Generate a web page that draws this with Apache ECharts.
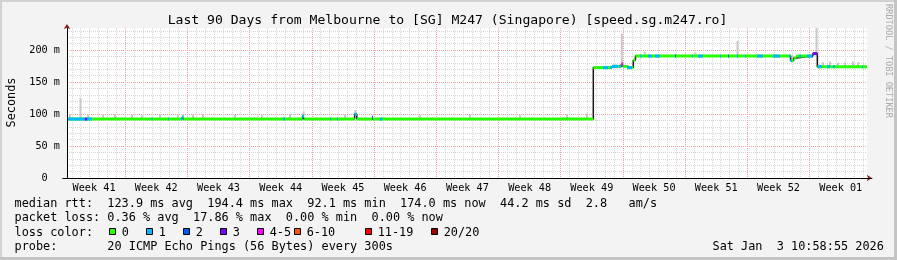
<!DOCTYPE html>
<html><head><meta charset="utf-8">
<script src="https://cdn.jsdelivr.net/npm/echarts@6/dist/echarts.min.js"></script>
<style>html,body{margin:0;padding:0;background:#f3f3f3}#c{width:897px;height:260px}</style>
</head><body><div id="c"></div>
<script>
// ---------------- data ----------------
const titleText = 'Last 90 Days from Melbourne to [SG] M247 (Singapore) [speed.sg.m247.ro]';
const weekLabels = ['Week 41','Week 42','Week 43','Week 44','Week 45','Week 46','Week 47','Week 48','Week 49','Week 50','Week 51','Week 52','Week 01'];
const spanDays = 90;                 // graph covers 90 days
const startOffsetDays = 39535 / 86400; // start time 10:58:55 after local Sunday midnight
const yMax = 234.4;                  // ms at top of plot
const yUnit = ' m';

// median rtt (ms) as piecewise-constant levels: day (since start) where each level begins
const levelDay = [0, 12.95, 13.12, 26.50, 26.68, 32.36, 32.60, 34.30, 34.42, 59.21, 61.30, 62.36, 62.56, 63.00, 63.71, 63.95, 81.40, 81.75, 82.00, 83.90, 84.41];
const levelRtt = [92.1, 95.5, 92.1, 97.0, 92.1, 99.5, 92.1, 95.0, 92.1, 172.5, 174.5, 178.0, 174.5, 172.5, 184.0, 190.5, 183.5, 187.5, 190.5, 194.4, 174.0];

// packet-loss colouring (intervals that are not 0 loss)
const lossStart = [0.00, 2.02, 2.25, 9.50, 11.36, 12.83, 24.30, 26.44, 29.59, 30.37, 32.34, 34.31, 35.20, 60.30, 61.09, 62.10, 62.33, 63.00, 64.50, 65.36, 66.15, 68.40, 70.31, 71.00, 73.46, 74.36, 75.37, 76.27, 77.62, 79.42, 81.23, 82.35, 83.25, 83.81, 84.49, 85.50, 86.17, 89.44];
const lossEnd   = [2.02, 2.25, 2.81, 9.62, 11.48, 13.16, 24.52, 26.66, 29.71, 30.49, 32.62, 34.42, 35.50, 60.86, 61.99, 62.33, 62.55, 63.56, 64.69, 65.81, 66.71, 68.52, 70.43, 71.55, 73.58, 74.48, 75.49, 76.39, 78.30, 80.21, 81.56, 82.58, 83.81, 84.41, 84.94, 85.84, 86.40, 89.55];
const lossClass = [1, 3, 1, 1, 1, 1, 1, 1, 1, 1, 1, 2, 1, 1, 1, 1, 4, 1, 1, 1, 1, 2, 1, 1, 1, 2, 1, 1, 1, 1, 1, 1, 1, 3, 1, 1, 1, 1];

// smoke (ping spread) tops, ms
const smokeDay = [0.34, 1.52, 2.36, 4.05, 5.40, 7.31, 8.44, 10.46, 12.49, 14.18, 15.30, 18.90, 21.94, 25.09, 26.62, 31.27, 32.45, 39.71, 45.34, 50.96, 56.25, 58.50, 62.42, 65.00, 70.70, 75.43, 81.60, 84.32, 85.05, 85.84, 86.74, 87.53, 88.43, 88.99];
const smokeTop = [99, 125, 99, 98, 100, 99, 98, 99, 98, 99, 100, 99, 98, 100, 104, 99, 106, 98, 99, 98, 100, 101, 226, 197, 196, 214, 192, 240, 181, 182, 180, 181, 182, 181];

const lossLabels = ['0', '1', '2', '3', '4-5', '6-10', '11-19', '20/20'];
const lossColors = ['#26ff00', '#00b8ff', '#0059ff', '#7e00ff', '#ff00ff', '#ff5500', '#ff0000', '#a10000'];

const statRtt  = 'median rtt:  123.9 ms avg  194.4 ms max  92.1 ms min  174.0 ms now  44.2 ms sd  2.8   am/s';
const statLoss = 'packet loss: 0.36 % avg  17.86 % max  0.00 % min  0.00 % now';
const lossHead = 'loss color:';
const probeText = 'probe:       20 ICMP Echo Pings (56 Bytes) every 300s';
const dateText = 'Sat Jan  3 10:58:55 2026';
const watermark = 'RRDTOOL / TOBI OETIKER';
const unitLabel = 'Seconds';

// ---------------- layout ----------------
const MONO = "'DejaVu Sans Mono', monospace";
const L = { left: 67, top: 28, width: 800, height: 150 };
const pxPerDay = L.width / spanDays;
const g2Left = L.left - startOffsetDays * pxPerDay;
const g2Width = weekLabels.length * 7 * pxPerDay;
const legendBoxX = [109, 146, 183, 220, 257, 294, 365, 431];
const LEG = 11.86, TIT = 13.1, AX = 10.2;
const mid = (baseline, size) => baseline - 0.297 * size;

// ---------------- derived series data ----------------
function levelEnd(i) { return i + 1 < levelDay.length ? levelDay[i + 1] : spanDays; }
const stepPts = levelDay.map((d, i) => [d, levelRtt[i]]);
stepPts.push([spanDays, levelRtt[levelRtt.length - 1]]);

const segData = levelDay.map((d, i) => [d, levelEnd(i), levelRtt[i], 0]);
lossStart.forEach((s, j) => {
  const e = lossEnd[j];
  levelDay.forEach((d, i) => {
    const a = Math.max(s, d), b = Math.min(e, levelEnd(i));
    if (b > a) segData.push([a, b, levelRtt[i], lossClass[j]]);
  });
});
function rttAt(day) {
  let v = levelRtt[0];
  levelDay.forEach((d, i) => { if (day >= d) v = levelRtt[i]; });
  return v;
}
const smokeData = smokeDay.map((d, i) => [d, rttAt(d), smokeTop[i]]);

// ---------------- graphics (texts, legend, frame) ----------------
function txt(x, y, text, size, extra) {
  return Object.assign({ type: 'text', x: x, y: y, silent: true,
    style: Object.assign({ text: text, fill: '#000', fontFamily: MONO, fontSize: size, align: 'left', verticalAlign: 'middle' }, extra || {}) });
}
const graphics = [
  { type: 'rect', shape: { x: 0, y: 0, width: 897, height: 2 }, style: { fill: '#d2d2d2' }, silent: true },
  { type: 'rect', shape: { x: 0, y: 0, width: 2, height: 260 }, style: { fill: '#d2d2d2' }, silent: true },
  { type: 'rect', shape: { x: 894, y: 0, width: 3, height: 260 }, style: { fill: '#c4c4c4' }, silent: true },
  { type: 'rect', shape: { x: 0, y: 257, width: 897, height: 3 }, style: { fill: '#c4c4c4' }, silent: true },
  txt(447.5, mid(24, TIT), titleText, TIT, { align: 'center' }),
  Object.assign(txt(11.5, 102.5, unitLabel, LEG, { align: 'center' }), { rotation: Math.PI / 2 }),
  Object.assign(txt(888.5, 61, watermark, 8.6, { align: 'center', fill: '#aaaaaa' }), { rotation: -Math.PI / 2 }),
  txt(14.5, mid(207.5, LEG), statRtt, LEG),
  txt(14.5, mid(221.7, LEG), statLoss, LEG),
  txt(14.5, mid(236, LEG), lossHead, LEG),
  txt(14.5, mid(250, LEG), probeText, LEG),
  txt(712.5, mid(250, LEG), dateText, LEG)
];
lossLabels.forEach((lab, i) => {
  graphics.push({ type: 'rect', silent: true, shape: { x: legendBoxX[i] + 0.5, y: 228.5, width: 6, height: 6 },
    style: { fill: lossColors[i], stroke: '#000', lineWidth: 1 } });
  graphics.push(txt(legendBoxX[i] + 12.7, mid(236, LEG), lab, LEG));
});

// ---------------- chart ----------------
const MINOR = '#d6d6d6', MAJOR = '#f2a0a0', ARROW = '#8b1a1a';
const chart = echarts.init(document.getElementById('c'), null, { renderer: 'canvas' });
chart.setOption({
  animation: false,
  backgroundColor: '#f3f3f3',
  grid: [
    { left: L.left, top: L.top, width: L.width, height: L.height, show: true, backgroundColor: '#ffffff', borderWidth: 0, containLabel: false, outerBoundsMode: 'none' },
    { left: g2Left, top: L.top, width: g2Width, height: L.height, show: false, containLabel: false, outerBoundsMode: 'none' }
  ],
  xAxis: [
    { gridIndex: 0, type: 'value', min: 0, max: spanDays, show: false, position: 'bottom' },
    { gridIndex: 1, type: 'value', min: 0, max: weekLabels.length * 7, interval: 1, position: 'bottom', z: 1,
      axisLine: { show: false }, axisTick: { show: false }, axisLabel: { show: false },
      splitLine: { show: true, showMinLine: false, showMaxLine: false, lineStyle: { color: MINOR, width: 1, type: [1, 1] } } },
    { gridIndex: 1, type: 'value', min: 0, max: weekLabels.length * 7, interval: 7, position: 'bottom', z: 2,
      axisLine: { show: true, onZero: false, symbol: ['none', 'arrow'], symbolSize: [5, 5], lineStyle: { color: ARROW, width: 1 } },
      axisTick: { show: false }, axisLabel: { show: false },
      splitLine: { show: true, showMinLine: false, showMaxLine: false, lineStyle: { color: MAJOR, width: 1, type: [1, 1] } } },
    { gridIndex: 1, type: 'category', data: weekLabels, boundaryGap: true, position: 'bottom', z: 10,
      axisLine: { show: true, onZero: false, lineStyle: { color: '#000', width: 1 } },
      axisTick: { show: false }, splitLine: { show: false },
      axisLabel: { show: true, interval: 0, margin: 5, color: '#000', fontFamily: MONO, fontSize: AX } }
  ],
  yAxis: [
    { gridIndex: 0, type: 'value', min: 0, max: yMax, interval: 10, z: 1, position: 'left',
      axisLine: { show: false }, axisTick: { show: false }, axisLabel: { show: false },
      splitLine: { show: true, showMinLine: false, showMaxLine: false, lineStyle: { color: MINOR, width: 1, type: [1, 1] } } },
    { gridIndex: 0, type: 'value', min: 0, max: yMax, interval: 50, z: 2, position: 'left',
      axisLine: { show: true, onZero: false, symbol: ['none', 'arrow'], symbolSize: [5, 5], symbolOffset: [0, 4], lineStyle: { color: ARROW, width: 1 } },
      axisTick: { show: false },
      axisLabel: { show: true, margin: 7, color: '#000', fontFamily: MONO, fontSize: AX, showMaxLabel: false,
        formatter: v => (v === 0 ? '0  ' : v + yUnit) },
      splitLine: { show: true, showMinLine: false, showMaxLine: false, lineStyle: { color: MAJOR, width: 1, type: [1, 1] } } },
    { gridIndex: 0, type: 'value', min: 0, max: yMax, z: 10, position: 'left',
      axisLine: { show: true, onZero: false, lineStyle: { color: '#000', width: 1 } },
      axisTick: { show: false }, axisLabel: { show: false }, splitLine: { show: false } },
    { gridIndex: 1, type: 'value', min: 0, max: 1, show: false, position: 'left' }
  ],
  graphic: { elements: graphics },
  series: [
    { type: 'custom', name: 'smoke', xAxisIndex: 0, yAxisIndex: 0, z: 5, silent: true, clip: true,
      encode: { x: 0, y: [1, 2] }, data: smokeData,
      renderItem: (params, api) => {
        const lo = api.coord([api.value(0), api.value(1)]);
        const hi = api.coord([api.value(0), api.value(2)]);
        return { type: 'rect', shape: { x: lo[0] - 1, y: hi[1], width: 2, height: lo[1] - hi[1] }, style: { fill: '#c8c8c8' } };
      } },
    { type: 'line', name: 'median', xAxisIndex: 0, yAxisIndex: 0, z: 6, silent: true, step: 'end',
      showSymbol: false, data: stepPts, lineStyle: { color: '#151515', width: 1.5 } },
    { type: 'custom', name: 'loss', xAxisIndex: 0, yAxisIndex: 0, z: 7, silent: true, clip: true,
      encode: { x: [0, 1], y: 2 }, data: segData,
      renderItem: (params, api) => {
        const a = api.coord([api.value(0), api.value(2)]);
        const b = api.coord([api.value(1), api.value(2)]);
        return { type: 'line', shape: { x1: a[0], y1: a[1], x2: b[0], y2: b[1] },
          style: { stroke: lossColors[api.value(3)], lineWidth: 3, lineCap: 'butt' } };
      } }
  ]
});
</script></body></html>
